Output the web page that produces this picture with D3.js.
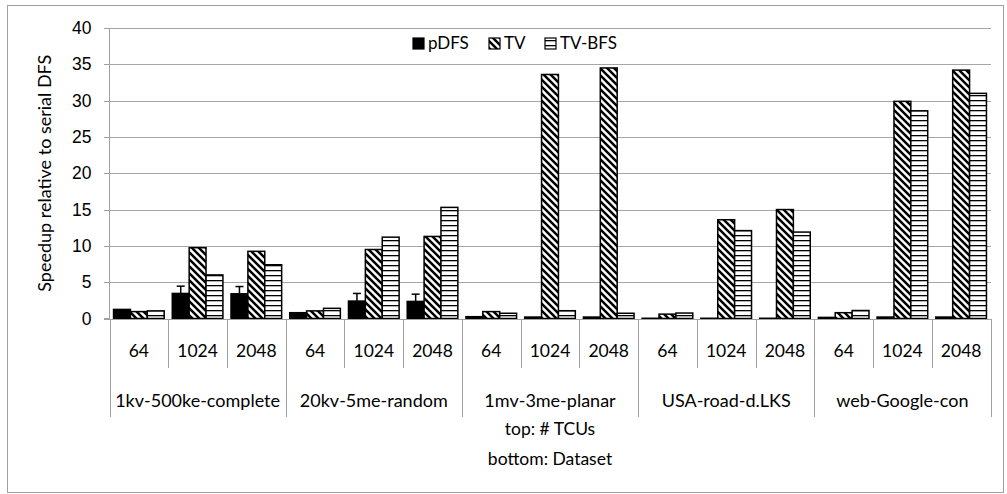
<!DOCTYPE html>
<meta charset="utf-8">
<style>
body { margin: 0; background: #fff; }
svg { font-family: Lato, "Open Sans", sans-serif; }
.grid line { stroke: #a6a6a6; stroke-width: 1; shape-rendering: crispEdges; }
.axis text { font-size: 17.5px; fill: #000; }
.sep { stroke: #a0a0a0; stroke-width: 1; shape-rendering: crispEdges; }
.bar { stroke: #000; stroke-width: 1.5; }
</style>
<body>
<div id="chart"></div>
<script src="https://cdn.jsdelivr.net/npm/d3@7"></script>
<script>
// data
var datasets = ["1kv-500ke-complete", "20kv-5me-random", "1mv-3me-planar", "USA-road-d.LKS", "web-Google-con"];
var tcus = ["64", "1024", "2048"];
var seriesNames = ["pDFS", "TV", "TV-BFS"];
var pdfs  = [1.25, 3.45, 3.4,  0.8, 2.4, 2.35,  0.25, 0.2, 0.2,  0.03, 0.03, 0.03,  0.15, 0.2, 0.2];
var pdfsErrTop = [null, 4.45, 4.4,  null, 3.45, 3.35,  null, null, null,  null, null, null,  null, null, null];
var tv    = [0.95, 9.75, 9.25,  1.05, 9.5, 11.3,  0.95, 33.6, 34.5,  0.6, 13.6, 15.0,  0.8, 29.9, 34.2];
var tvbfs = [1.05, 6.0, 7.4,  1.4, 11.2, 15.3,  0.72, 1.07, 0.72,  0.75, 12.1, 11.9,  1.1, 28.6, 31.0];
var yTicks = [0, 5, 10, 15, 20, 25, 30, 35, 40];

(function() {
var W = 1007, H = 494;
var mLeft = 109.5, mRight = 990.5, mTop = 28, mBottom = 318.5;

var cats = [];
datasets.forEach(function(d, gi) {
  tcus.forEach(function(t, ti) { cats.push({ key: gi + "-" + ti, tcu: t, group: d, i: gi * 3 + ti }); });
});

var svg = d3.select("#chart").append("svg").attr("width", W).attr("height", H);

var defs = svg.append("defs");
var diag = defs.append("pattern").attr("id", "diag")
  .attr("patternUnits", "userSpaceOnUse").attr("width", 7).attr("height", 7);
diag.append("rect").attr("width", 7).attr("height", 7).attr("fill", "#fff");
diag.append("path").attr("d", "M-1,-1 L8,8 M-1,6 L1,8 M6,-1 L8,1")
  .attr("stroke", "#000").attr("stroke-width", 2.5);
var horiz = defs.append("pattern").attr("id", "horiz")
  .attr("patternUnits", "userSpaceOnUse").attr("width", 5).attr("height", 5);
horiz.append("rect").attr("width", 5).attr("height", 5).attr("fill", "#fff");
horiz.append("rect").attr("y", 0).attr("width", 5).attr("height", 1.3).attr("fill", "#000");

var fills = ["#000", "url(#diag)", "url(#horiz)"];

// outer frame
svg.append("rect").attr("x", 7.5).attr("y", 5.5).attr("width", 996).attr("height", 487)
  .attr("fill", "none").attr("stroke", "#a0a0a0").attr("stroke-width", 1);

var x = d3.scaleBand().domain(cats.map(function(c) { return c.key; })).range([mLeft, mRight]).paddingInner(0).paddingOuter(0);
var xs = d3.scaleBand().domain(seriesNames).range([0, x.bandwidth()]).paddingInner(0).paddingOuter(0.24);
var y = d3.scaleLinear().domain([0, 40]).range([mBottom, mTop]);

// gridlines
svg.append("g").attr("class", "grid").selectAll("line").data(yTicks).enter().append("line")
  .attr("x1", mLeft).attr("x2", mRight)
  .attr("y1", function(d) { return Math.round(y(d)) + 0.5; })
  .attr("y2", function(d) { return Math.round(y(d)) + 0.5; });

// y axis
var yAxis = d3.axisLeft(y).tickValues(yTicks).tickSize(6).tickPadding(12);
var ya = svg.append("g").attr("class", "axis").attr("transform", "translate(" + mLeft + ",0)").call(yAxis);
ya.selectAll("path, line").attr("stroke", "#a0a0a0").attr("shape-rendering", "crispEdges");
ya.select(".domain").attr("d", "M-6," + y(40) + "H0V" + y(0) + "H-6");

svg.append("text").attr("transform", "translate(45," + ((mTop + mBottom) / 2) + ") rotate(-90)")
  .attr("text-anchor", "middle").attr("dy", "0.35em").style("font-size", "18px")
  .text("Speedup relative to serial DFS");

// bars
var series = [pdfs, tv, tvbfs];
series.forEach(function(vals, si) {
  svg.append("g").selectAll("rect").data(cats).enter().append("rect")
    .attr("class", "bar")
    .attr("x", function(c) { return x(c.key) + xs(seriesNames[si]); })
    .attr("width", xs.bandwidth())
    .attr("y", function(c) { return y(vals[c.i]); })
    .attr("height", function(c) { return y(0) - y(vals[c.i]); })
    .attr("fill", fills[si]);
});

// error bars on pDFS (top only)
var errCats = cats.filter(function(c) { return pdfsErrTop[c.i] != null; });
var eb = svg.append("g").attr("stroke", "#000").attr("stroke-width", 1.5);
errCats.forEach(function(c) {
  var cx = x(c.key) + xs("pDFS") + xs.bandwidth() / 2;
  eb.append("line").attr("x1", cx).attr("x2", cx).attr("y1", y(pdfs[c.i])).attr("y2", y(pdfsErrTop[c.i]));
  eb.append("line").attr("x1", cx - 4).attr("x2", cx + 4).attr("y1", y(pdfsErrTop[c.i])).attr("y2", y(pdfsErrTop[c.i]));
});

// category axis
var ax = svg.append("g").attr("class", "axis");
ax.append("line").attr("class", "sep").attr("x1", mLeft).attr("x2", mRight).attr("y1", mBottom + 0.5).attr("y2", mBottom + 0.5);
cats.forEach(function(c, k) {
  var isGroup = k % 3 === 0;
  ax.append("line").attr("class", "sep")
    .attr("x1", Math.round(x(c.key)) + 0.5).attr("x2", Math.round(x(c.key)) + 0.5)
    .attr("y1", mBottom).attr("y2", isGroup ? 417 : 368);
  ax.append("text").attr("x", x(c.key) + x.bandwidth() / 2).attr("y", 351)
    .attr("dy", "0.35em").attr("text-anchor", "middle").text(c.tcu);
});
ax.append("line").attr("class", "sep").attr("x1", mRight + 0.5).attr("x2", mRight + 0.5).attr("y1", mBottom).attr("y2", 417);
datasets.forEach(function(d, gi) {
  var x0 = x(cats[gi * 3].key), x1 = x(cats[gi * 3 + 2].key) + x.bandwidth();
  ax.append("text").attr("x", (x0 + x1) / 2).attr("y", 401).attr("dy", "0.35em")
    .attr("text-anchor", "middle").style("font-size", "18px").text(d);
});

var titleX = (mLeft + mRight) / 2;
svg.append("text").attr("x", titleX).attr("y", 429).attr("dy", "0.35em").attr("text-anchor", "middle")
  .style("font-size", "17.5px").text("top: # TCUs");
svg.append("text").attr("x", titleX).attr("y", 459).attr("dy", "0.35em").attr("text-anchor", "middle")
  .style("font-size", "17.5px").text("bottom: Dataset");

// legend
var legendX = [413, 489, 545];
var lg = svg.append("g");
seriesNames.forEach(function(s, i) {
  lg.append("rect").attr("x", legendX[i]).attr("y", 38).attr("width", 11).attr("height", 11)
    .attr("fill", fills[i]).attr("stroke", "#000").attr("stroke-width", 1.2);
  lg.append("text").attr("x", legendX[i] + 15).attr("y", 43.5).attr("dy", "0.35em")
    .style("font-size", "17px").text(s);
});
})();
</script>
</body>
